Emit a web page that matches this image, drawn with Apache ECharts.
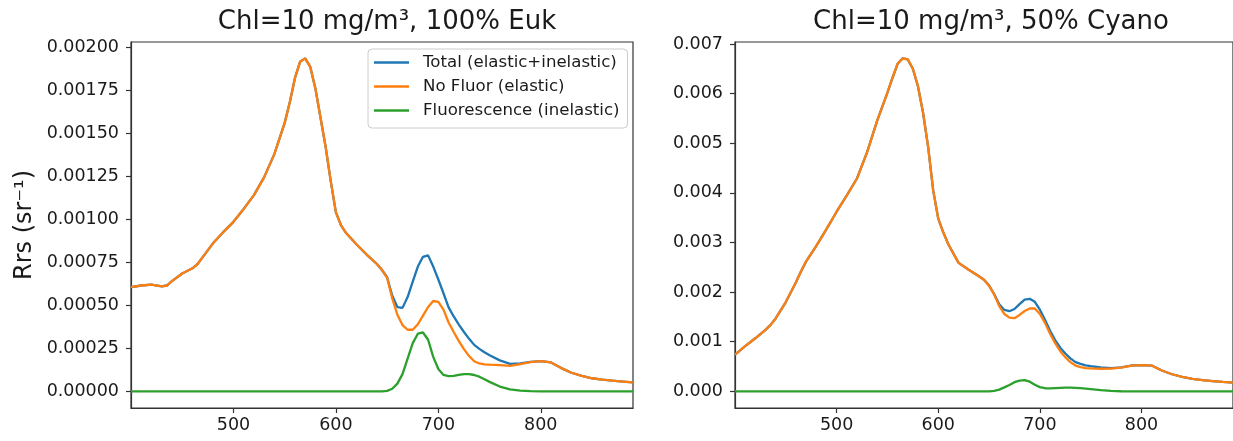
<!DOCTYPE html>
<html>
<head>
<meta charset="utf-8">
<script src="https://cdn.jsdelivr.net/npm/echarts@6/dist/echarts.min.js"></script>
<style>
html,body{margin:0;padding:0;background:#fff;}
#c{width:1233px;height:441px;}
</style>
</head>
<body>
<div id="c"></div>
<script>
// ---- data ----
const wavelengths = [400,410,420,430,435,440,450,460,465,470,480,490,500,510,520,530,540,550,555,560,565,570,575,580,585,590,595,600,605,610,620,630,640,645,650,655,660,665,670,675,680,685,690,695,700,705,710,715,720,725,730,735,740,745,750,760,770,780,790,800,810,820,830,840,850,860,870,880,890];

const seriesNames = ['Total (elastic+inelastic)', 'No Fluor (elastic)', 'Fluorescence (inelastic)'];
const titles = ['Chl=10 mg/m³, 100% Euk', 'Chl=10 mg/m³, 50% Cyano'];
const xTicks = [500, 600, 700, 800];
const yTicksLeft = [0, 0.00025, 0.0005, 0.00075, 0.001, 0.00125, 0.0015, 0.00175, 0.002];
const yTicksRight = [0, 0.001, 0.002, 0.003, 0.004, 0.005, 0.006, 0.007];

// 100% Euk
const eukNoFluor = [0.000605,0.000615,0.000620,0.000610,0.000615,0.000640,0.000685,0.000715,0.000740,0.000780,0.000860,0.000925,0.000985,0.001060,0.001140,0.001245,0.001380,0.001560,0.001680,0.001820,0.001915,0.001935,0.001885,0.001760,0.001590,0.001420,0.001220,0.001040,0.000965,0.000920,0.000855,0.000795,0.000740,0.000705,0.000660,0.000540,0.000445,0.000385,0.000358,0.000358,0.000390,0.000440,0.000490,0.000525,0.000520,0.000475,0.000400,0.000345,0.000292,0.000245,0.000205,0.000175,0.000162,0.000157,0.000155,0.000152,0.000148,0.000158,0.000170,0.000175,0.000168,0.000135,0.000108,0.000090,0.000076,0.000068,0.000062,0.000057,0.000052];
const eukFluor = [0,0,0,0,0,0,0,0,0,0,0,0,0,0,0,0,0,0,0,0,0,0,0,0,0,0,0,0,0,0,0,0,0,0,0.000003,0.000015,0.000045,0.000100,0.000190,0.000280,0.000335,0.000342,0.000300,0.000200,0.000130,0.000095,0.000088,0.000090,0.000096,0.000100,0.000100,0.000095,0.000085,0.000070,0.000055,0.000028,0.000012,0.000004,0.000001,0,0,0,0,0,0,0,0,0,0];
const eukTotal = [0.000605,0.000615,0.000620,0.000610,0.000615,0.000640,0.000685,0.000715,0.000740,0.000780,0.000860,0.000925,0.000985,0.001060,0.001140,0.001245,0.001380,0.001560,0.001680,0.001820,0.001915,0.001935,0.001885,0.001760,0.001590,0.001420,0.001220,0.001040,0.000965,0.000920,0.000855,0.000795,0.000740,0.000705,0.000663,0.000555,0.000490,0.000485,0.000548,0.000638,0.000725,0.000782,0.000790,0.000725,0.000650,0.000570,0.000488,0.000435,0.000388,0.000345,0.000305,0.000270,0.000247,0.000227,0.000210,0.000180,0.000160,0.000162,0.000171,0.000175,0.000168,0.000135,0.000108,0.000090,0.000076,0.000068,0.000062,0.000057,0.000052];

// 50% Cyano
const cyaNoFluor = [0.000740,0.000910,0.001070,0.001240,0.001340,0.001470,0.001800,0.002200,0.002420,0.002620,0.002930,0.003270,0.003620,0.003950,0.004290,0.004820,0.005460,0.006020,0.006320,0.006600,0.006710,0.006690,0.006500,0.006150,0.005620,0.004930,0.004050,0.003480,0.003200,0.002960,0.002590,0.002450,0.002320,0.002250,0.002130,0.001950,0.001720,0.001560,0.001485,0.001475,0.001540,0.001620,0.001670,0.001670,0.001560,0.001380,0.001160,0.000970,0.000810,0.000690,0.000590,0.000520,0.000490,0.000470,0.000463,0.000456,0.000458,0.000480,0.000520,0.000530,0.000520,0.000420,0.000345,0.000290,0.000250,0.000225,0.000205,0.000190,0.000178];
const cyaFluor = [0,0,0,0,0,0,0,0,0,0,0,0,0,0,0,0,0,0,0,0,0,0,0,0,0,0,0,0,0,0,0,0,0,0,0.000002,0.000012,0.000035,0.000080,0.000130,0.000185,0.000218,0.000228,0.000195,0.000135,0.000085,0.000063,0.000060,0.000065,0.000070,0.000074,0.000074,0.000070,0.000065,0.000055,0.000045,0.000025,0.000010,0.000003,0.000001,0,0,0,0,0,0,0,0,0,0];
const cyaTotal = [0.000740,0.000910,0.001070,0.001240,0.001340,0.001470,0.001800,0.002200,0.002420,0.002620,0.002930,0.003270,0.003620,0.003950,0.004290,0.004820,0.005460,0.006020,0.006320,0.006600,0.006710,0.006690,0.006500,0.006150,0.005620,0.004930,0.004050,0.003480,0.003200,0.002960,0.002590,0.002450,0.002320,0.002250,0.002132,0.001962,0.001755,0.001640,0.001615,0.001660,0.001758,0.001848,0.001865,0.001805,0.001645,0.001443,0.001220,0.001035,0.000880,0.000764,0.000664,0.000590,0.000555,0.000525,0.000508,0.000481,0.000468,0.000483,0.000521,0.000530,0.000520,0.000420,0.000345,0.000290,0.000250,0.000225,0.000205,0.000190,0.000178];

const colors = ['#1f77b4', '#ff7f0e', '#2ca02c'];
const FONT = 'DejaVu Sans';
const TXT = '#1a1a1a';
const AX = '#333333';

function pairs(arr){ return wavelengths.map((w,i)=>[w, arr[i]]); }

function xAxisCfg(gi){
  return {
    type:'value', gridIndex:gi, min:400, max:890,
    axisLine:{show:true, onZero:false, lineStyle:{color:AX, width:1.2}},
    axisTick:{show:true, length:5, inside:false, customValues:xTicks, lineStyle:{color:AX, width:1.2}},
    axisLabel:{customValues:xTicks, color:TXT, fontFamily:FONT, fontSize:17.5, margin:8},
    splitLine:{show:false}
  };
}
function yAxisCfg(gi, mn, mx, ticks, dec){
  return {
    type:'value', gridIndex:gi, min:mn, max:mx,
    axisLine:{show:true, onZero:false, lineStyle:{color:AX, width:1.2}},
    axisTick:{show:true, length:5, inside:false, customValues:ticks, lineStyle:{color:AX, width:1.2}},
    axisLabel:{customValues:ticks, color:TXT, fontFamily:FONT, fontSize:17.5, margin:12,
      formatter:(v)=>v.toFixed(dec)},
    splitLine:{show:false}
  };
}
function line(name, gi, arr, ci){
  return {
    name, type:'line', xAxisIndex:gi, yAxisIndex:gi, data:pairs(arr),
    showSymbol:false, symbol:'none', smooth:false, animation:false,
    lineStyle:{color:colors[ci], width:2.3}, itemStyle:{color:colors[ci]}
  };
}

const yLeft = yAxisCfg(0, -0.0000968, 0.00203, yTicksLeft, 5);
yLeft.name = 'Rrs (sr⁻¹)';
yLeft.nameLocation = 'middle';
yLeft.nameRotate = 90;
yLeft.nameGap = 94;
yLeft.nameTextStyle = {fontFamily:FONT, fontSize:24, color:TXT};

const option = {
  animation:false,
  backgroundColor:'#ffffff',
  title:[
    {text:titles[0], left:382, top:4, textAlign:'center',
     textStyle:{fontFamily:FONT, fontSize:26, fontWeight:'normal', color:TXT}},
    {text:titles[1], left:986, top:4, textAlign:'center',
     textStyle:{fontFamily:FONT, fontSize:26, fontWeight:'normal', color:TXT}}
  ],
  grid:[
    {left:131, top:42, width:502, height:366, show:true, borderColor:AX, borderWidth:1.2, backgroundColor:'transparent'},
    {left:735, top:42, width:502, height:366, show:true, borderColor:AX, borderWidth:1.2, backgroundColor:'transparent'}
  ],
  legend:{
    data:seriesNames, orient:'vertical', left:368, top:49,
    icon:'rect', itemWidth:35, itemHeight:2.5, itemGap:5,
    padding:[4,8,8,6],
    backgroundColor:'rgba(255,255,255,0.85)', borderColor:'#cccccc', borderWidth:1, borderRadius:4,
    textStyle:{fontFamily:FONT, fontSize:16.6, color:TXT, lineHeight:19, padding:[0,0,0,9]}
  },
  xAxis:[xAxisCfg(0), xAxisCfg(1)],
  yAxis:[yLeft, yAxisCfg(1, -0.000335, 0.00704, yTicksRight, 3)],
  series:[
    line(seriesNames[0], 0, eukTotal, 0),
    line(seriesNames[1], 0, eukNoFluor, 1),
    line(seriesNames[2], 0, eukFluor, 2),
    line(seriesNames[0], 1, cyaTotal, 0),
    line(seriesNames[1], 1, cyaNoFluor, 1),
    line(seriesNames[2], 1, cyaFluor, 2)
  ]
};
const chart = echarts.init(document.getElementById('c'), null, {renderer:'canvas'});
chart.setOption(option);
</script>
</body>
</html>
